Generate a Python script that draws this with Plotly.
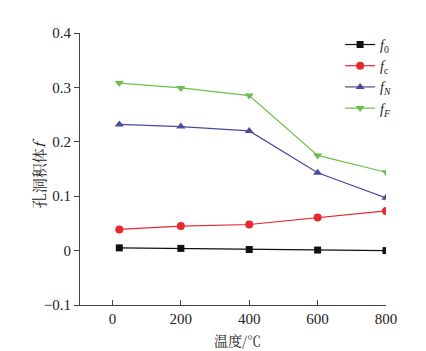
import plotly.graph_objects as go

temps = [20, 200, 400, 600, 800]
f0 = [0.005, 0.004, 0.002, 0.001, 0.000]
fc = [0.039, 0.045, 0.048, 0.061, 0.073]
fN = [0.232, 0.228, 0.220, 0.143, 0.097]
fF = [0.308, 0.299, 0.285, 0.175, 0.144]

names = ["<i>f</i><sub>0</sub>", "<i>f</i><sub>c</sub>", "<i>f<sub>N</sub></i>", "<i>f<sub>F</sub></i>"]
colors = ["#111111", "#e8282b", "#4a4a9c", "#6cc04a"]
symbols = ["square", "circle", "triangle-up", "triangle-down"]
series = [f0, fc, fN, fF]

fig = go.Figure()
for nm, ys, c, s in zip(names, series, colors, symbols):
    fig.add_trace(go.Scatter(x=temps, y=ys, name=nm, mode="lines+markers",
                             line=dict(color=c, width=1.2),
                             marker=dict(symbol=s, size=8 if s != "square" else 7, color=c)))

serif = "Times New Roman, Liberation Serif, DejaVu Serif, serif"
cjk = "Noto Serif CJK SC, Noto Sans CJK SC"
fig.update_layout(
    width=426, height=351,
    margin=dict(l=80, r=40, t=33, b=46),
    paper_bgcolor="white", plot_bgcolor="white",
    font=dict(family=serif, size=15, color="#222"),
    showlegend=True,
    legend=dict(x=0.85, y=1.015, xanchor="left", yanchor="top",
                font=dict(size=14, family=serif), bgcolor="rgba(0,0,0,0)",
                tracegroupgap=0, itemwidth=30),
    xaxis=dict(range=[-95, 800], tickvals=[0, 200, 400, 600, 800],
               ticks="inside", ticklen=5, tickcolor="#444",
               tickfont=dict(family=serif, size=15),
               showline=True, linecolor="#444", linewidth=1.2, mirror=False,
               showgrid=False, zeroline=False),
    yaxis=dict(range=[-0.1, 0.4], tickvals=[-0.1, 0, 0.1, 0.2, 0.3, 0.4],
               ticktext=["−0.1", "0", "0.1", "0.2", "0.3", "0.4"],
               tickfont=dict(family=serif, size=15),
               ticks="outside", ticklen=5, tickcolor="#444",
               showline=True, linecolor="#444", linewidth=1.2,
               showgrid=False, zeroline=False),
    annotations=[
        dict(text="温度/℃", xref="paper", yref="paper", x=0.516, y=-0.128,
             xanchor="center", yanchor="middle", showarrow=False,
             font=dict(family=cjk, size=14, color="#222")),
        dict(text="孔洞积体<i>f</i>", xref="paper", yref="paper", x=-0.137, y=0.485,
             xanchor="center", yanchor="middle", showarrow=False, textangle=-90,
             font=dict(family=cjk, size=15, color="#222")),
    ],
)
fig.write_html("out.html")
